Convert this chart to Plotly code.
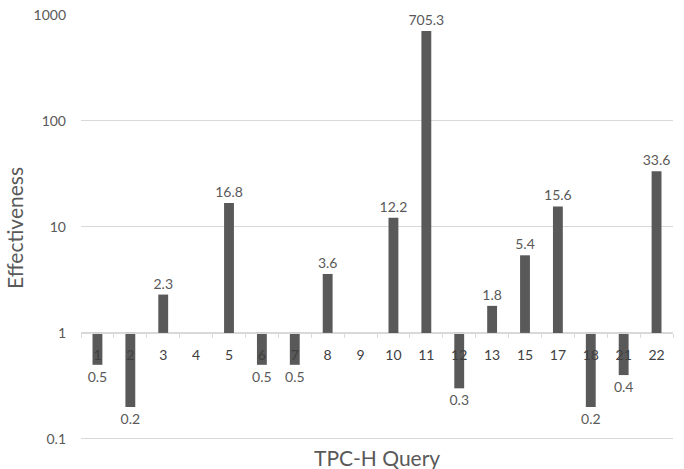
import plotly.graph_objects as go

queries = ["1", "2", "3", "4", "5", "6", "7", "8", "9", "10", "11", "12", "13", "15", "17", "18", "21", "22"]
effectiveness = [0.5, 0.2, 2.3, None, 16.8, 0.5, 0.5, 3.6, None, 12.2, 705.3, 0.3, 1.8, 5.4, 15.6, 0.2, 0.4, 33.6]
y_ticks = [0.1, 1, 10, 100, 1000]
y_tick_labels = ["0.1", "1", "10", "100", "1000"]

BASE = 1.0
sizes = [(v - BASE) if v is not None else 0 for v in effectiveness]
labels = [("%g" % v) if v is not None else "" for v in effectiveness]

FONT = "Lato, Open Sans, sans-serif"
GRAY = "#595959"

Y_MIN_LOG, Y_MAX_LOG = -1.02, 3.0
axis_pos = (0 - Y_MIN_LOG) / (Y_MAX_LOG - Y_MIN_LOG)

fig = go.Figure()
fig.add_trace(go.Bar(
    x=queries,
    y=sizes,
    base=[BASE] * len(queries),
    text=labels,
    textposition="outside",
    constraintext="none",
    cliponaxis=False,
    textfont=dict(family=FONT, size=14, color=GRAY),
    marker=dict(color="#595959", line=dict(width=0)),
    width=0.3,
    hoverinfo="skip",
))

fig.update_layout(
    width=684, height=469,
    margin=dict(l=81, r=11, t=15, b=28),
    paper_bgcolor="white", plot_bgcolor="white",
    showlegend=False,
    font=dict(family=FONT, size=14, color=GRAY),
    xaxis=dict(
        type="category",
        anchor="free", position=axis_pos,
        automargin=False,
        showline=True, linecolor="#d9d9d9", linewidth=1,
        ticks="outside", tickson="boundaries", ticklen=4, tickcolor="#d9d9d9",
        ticklabelstandoff=9,
        showgrid=False,
        tickfont=dict(family=FONT, size=14, color="#404040"),
        fixedrange=True,
    ),
    yaxis=dict(
        type="log",
        range=[Y_MIN_LOG, Y_MAX_LOG],
        automargin=False,
        tickvals=y_ticks, ticktext=y_tick_labels,
        showgrid=True, gridcolor="#d9d9d9", gridwidth=1,
        showline=False, zeroline=False,
        ticks="", ticklabelstandoff=14,
        tickfont=dict(family=FONT, size=14, color=GRAY),
        title=dict(text="Effectiveness", font=dict(family=FONT, size=21, color=GRAY), standoff=4),
        fixedrange=True,
    ),
    annotations=[dict(
        text="TPC-H Query", xref="paper", yref="paper", x=0.5, y=0, yshift=-2,
        yanchor="top", xanchor="center", showarrow=False,
        font=dict(family=FONT, size=21, color=GRAY),
    )],
)

fig.write_html("out.html", config={"displayModeBar": False},
               post_script="document.body.style.margin='0';")
